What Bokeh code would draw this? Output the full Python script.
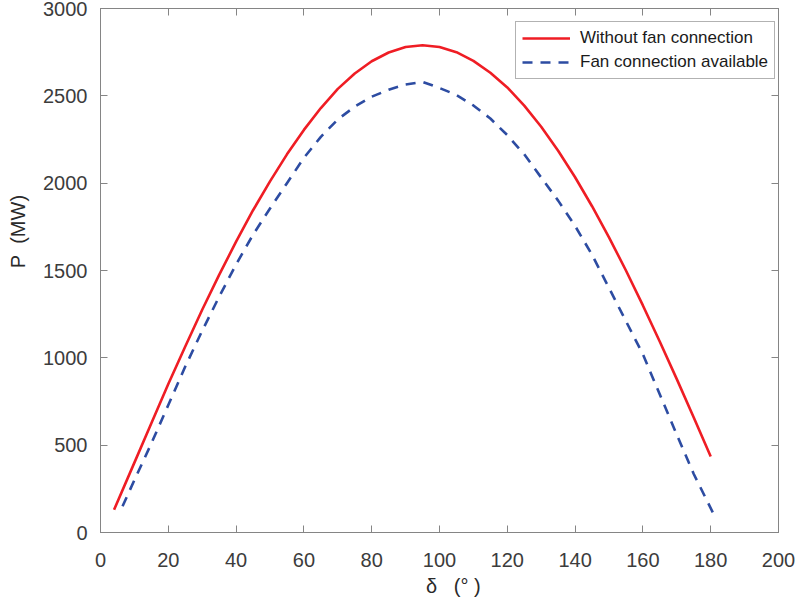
from bokeh.plotting import figure
from bokeh.models import LinearAxis, SingleIntervalTicker, Range1d, Legend, LegendItem, ColumnDataSource
from bokeh.embed import file_html
from bokeh.resources import INLINE

# Curve without fan connection (delta in degrees, P in MW)
delta_red = [4, 10, 15, 20, 25, 30, 35, 40, 45, 50, 55, 60, 65, 70, 75, 80, 85, 90, 95,
             100, 105, 110, 115, 120, 125, 130, 135, 140, 145, 150, 155, 160, 165, 170, 175, 180]
p_red = [130, 400, 625, 850, 1065, 1275, 1475, 1665, 1845, 2010, 2165, 2305, 2430, 2540, 2628, 2698, 2748, 2780, 2790,
         2780, 2750, 2700, 2632, 2548, 2444, 2323, 2186, 2034, 1868, 1690, 1500, 1300, 1092, 878, 658, 435]

# Curve with fan connection available
delta_blue = [6.5, 10, 15, 20, 25, 30, 35, 40, 45, 50, 55, 60, 65, 70, 75, 80, 85, 90, 95,
              100, 105, 110, 115, 120, 125, 130, 135, 140, 145, 150, 155, 160, 165, 170, 175, 181]
p_blue = [150, 300, 510, 730, 950, 1155, 1350, 1535, 1705, 1855, 2000, 2145, 2265, 2365, 2438, 2495, 2535, 2565, 2580,
          2545, 2505, 2445, 2370, 2275, 2165, 2032, 1900, 1755, 1590, 1400, 1210, 1020, 790, 560, 335, 100]

series_labels = ["Without fan connection", "Fan connection available"]
x_ticks_step = 20
y_ticks_step = 500

FONT = "Liberation Sans"
AX_COL = "#858585"
TXT_COL = "#3c3c3c"
NB = "\u00a0"

p = figure(width=801, height=599, output_backend="svg", toolbar_location=None,
           x_range=Range1d(0, 200), y_range=Range1d(0, 3000),
           min_border_left=100, min_border_right=23, min_border_top=8, min_border_bottom=67,
           x_axis_label=NB * 5 + "δ" + NB * 3 + "(°" + NB + ")",
           y_axis_label=NB * 14 + "P" + NB * 2 + "(MW)")
p.grid.visible = False
p.outline_line_color = AX_COL
p.background_fill_color = "white"
p.border_fill_color = "white"

src_r = ColumnDataSource(dict(x=delta_red, y=p_red))
src_b = ColumnDataSource(dict(x=delta_blue, y=p_blue))
r1 = p.line("x", "y", source=src_r, line_color="#ef1d24", line_width=2.6)
r2 = p.line("x", "y", source=src_b, line_color="#2d4ca2", line_width=2.6, line_dash="10 8")

xa = p.xaxis[0]
ya = p.yaxis[0]
for ax in (xa, ya):
    ax.axis_line_color = AX_COL
    ax.major_tick_line_color = AX_COL
    ax.minor_tick_line_color = None
    ax.major_tick_in = 7
    ax.major_tick_out = 0
    ax.major_label_text_font = FONT
    ax.major_label_text_font_size = "20px"
    ax.major_label_text_color = TXT_COL
    ax.axis_label_text_font = FONT
    ax.axis_label_text_font_size = "20px"
    ax.axis_label_text_font_style = "normal"
    ax.axis_label_text_color = "#2a2a2a"
xa.ticker = SingleIntervalTicker(interval=x_ticks_step)
ya.ticker = SingleIntervalTicker(interval=y_ticks_step)
xa.major_label_standoff = 16
xa.axis_label_standoff = 5
ya.major_label_standoff = 9
ya.axis_label_standoff = 11

top = LinearAxis(ticker=SingleIntervalTicker(interval=x_ticks_step))
right = LinearAxis(ticker=SingleIntervalTicker(interval=y_ticks_step))
for ax in (top, right):
    ax.axis_line_color = AX_COL
    ax.major_tick_line_color = AX_COL
    ax.minor_tick_line_color = None
    ax.major_tick_in = 7
    ax.major_tick_out = 0
    ax.major_label_text_font_size = "0px"
    ax.major_label_standoff = 0
p.add_layout(top, "above")
p.add_layout(right, "right")

legend = Legend(items=[LegendItem(label=series_labels[0], renderers=[r1]),
                       LegendItem(label=series_labels[1], renderers=[r2])],
                location=(415, 453))
legend.label_text_font = FONT
legend.label_text_font_size = "17px"
legend.label_text_color = "#1a1a1a"
legend.glyph_width = 48
legend.glyph_height = 20
legend.label_height = 20
legend.label_standoff = 10
legend.spacing = 4
legend.padding = 6
legend.margin = 0
legend.border_line_color = "#666666"
legend.border_line_width = 1
legend.background_fill_color = "white"
legend.background_fill_alpha = 1
p.add_layout(legend)

open("out.html", "w").write(file_html(p, INLINE))
